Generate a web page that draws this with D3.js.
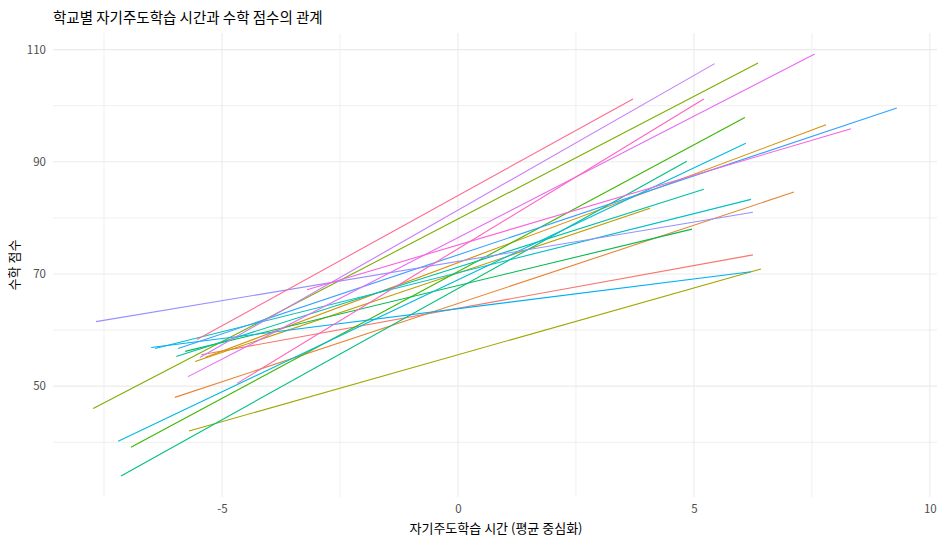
<!DOCTYPE html>
<html>
<head>
<meta charset="utf-8">
<script src="https://cdn.jsdelivr.net/npm/d3@7"></script>
<style>
  body { margin: 0; background: #fff; }
  text { font-family: "Noto Sans CJK KR", "Noto Sans", sans-serif; }
</style>
</head>
<body>
<div id="chart"></div>
<script>

// one fitted line per school: start / end of study time (centered) and score
var schools = ["S01","S02","S03","S04","S05","S06","S07","S08","S09","S10",
               "S11","S12","S13","S14","S15","S16","S17","S18","S19","S20"];
var x_start = [-5.44, -6.00, -5.36, -5.57, -5.70, -7.73, -6.93, -5.78, -7.14, -5.97,
               -6.42, -7.20, -6.50, -5.93, -7.67, -5.47, -5.72, -3.20, -4.68, -5.53];
var x_end   = [ 6.25,  7.12,  7.80,  4.07,  6.42,  6.36,  6.08,  4.96,  4.85,  5.21,
                6.21,  6.10,  6.21,  9.30,  6.25,  5.44,  7.56,  8.33,  5.21,  3.71];
var y_start = [55.6, 48.0, 55.1, 54.4, 42.0, 46.0, 39.1, 56.2, 34.0, 55.3,
               56.7, 40.2, 56.9, 56.7, 61.5, 55.1, 51.7, 67.2, 50.5, 58.3];
var y_end   = [73.4, 84.6, 96.6, 81.7, 70.9, 107.6, 97.9, 78.0, 90.1, 85.1,
               83.3, 93.3, 70.4, 99.6, 81.0, 107.5, 109.2, 95.9, 101.2, 101.2];

var x_ticks = [-5, 0, 5, 10];
var y_ticks = [50, 70, 90, 110];

var title_text = "학교별 자기주도학습 시간과 수학 점수의 관계";
var x_title = "자기주도학습 시간 (평균 중심화)";
var y_title = "수학 점수";

var svg_width = 945;
var svg_height = 542;
var panel = {left: 53, right: 937, top: 33, bottom: 497};

var lines = schools.map(function(s, i) {
  return {school: s, x0: x_start[i], x1: x_end[i], y0: y_start[i], y1: y_end[i]};
});

// ggplot style 5% expansion
function expand(ext) {
  var pad = (ext[1] - ext[0]) * 0.05;
  return [ext[0] - pad, ext[1] + pad];
}
var x_ext = expand([d3.min(x_start), d3.max(x_end)]);
var y_ext = expand([d3.min(y_start), d3.max(y_end)]);

var xScale = d3.scaleLinear().domain(x_ext).range([panel.left, panel.right]);
var yScale = d3.scaleLinear().domain(y_ext).range([panel.bottom, panel.top]);

// hue palette like scales::hue_pal()
var colorScale = d3.scaleOrdinal()
  .domain(schools)
  .range(["#F8766D","#EA8331","#D89000","#C09B00","#A3A500","#7CAE00","#39B600","#00BB4E",
          "#00BF7D","#00C1A3","#00BFC4","#00BAE0","#00B0F6","#35A2FF","#9590FF","#C77CFF",
          "#E76BF3","#FA62DB","#FF62BC","#FF6C91"]);

var svg = d3.select('#chart')
  .append('svg')
  .attr('width', svg_width)
  .attr('height', svg_height);

// minor grid (halfway between majors)
var x_minor = x_ticks.map(function(t) { return t - 2.5; });
var y_minor = y_ticks.map(function(t) { return t - 10; });

var grid = svg.append('g');
grid.selectAll('line.xmin')
  .data(x_minor)
  .enter().append('line')
    .attr('x1', function(d) { return xScale(d); })
    .attr('x2', function(d) { return xScale(d); })
    .attr('y1', panel.top).attr('y2', panel.bottom)
    .attr('stroke', '#EBEBEB').attr('stroke-width', 0.8);
grid.selectAll('line.ymin')
  .data(y_minor)
  .enter().append('line')
    .attr('y1', function(d) { return yScale(d); })
    .attr('y2', function(d) { return yScale(d); })
    .attr('x1', panel.left).attr('x2', panel.right)
    .attr('stroke', '#EBEBEB').attr('stroke-width', 0.8);
grid.selectAll('line.xmaj')
  .data(x_ticks)
  .enter().append('line')
    .attr('x1', function(d) { return xScale(d); })
    .attr('x2', function(d) { return xScale(d); })
    .attr('y1', panel.top).attr('y2', panel.bottom)
    .attr('stroke', '#EBEBEB').attr('stroke-width', 1.1);
grid.selectAll('line.ymaj')
  .data(y_ticks)
  .enter().append('line')
    .attr('y1', function(d) { return yScale(d); })
    .attr('y2', function(d) { return yScale(d); })
    .attr('x1', panel.left).attr('x2', panel.right)
    .attr('stroke', '#EBEBEB').attr('stroke-width', 1.1);

// school lines
svg.append('g').selectAll('line')
  .data(lines)
  .enter().append('line')
    .attr('x1', function(d) { return xScale(d.x0); })
    .attr('y1', function(d) { return yScale(d.y0); })
    .attr('x2', function(d) { return xScale(d.x1); })
    .attr('y2', function(d) { return yScale(d.y1); })
    .attr('stroke', function(d) { return colorScale(d.school); })
    .attr('stroke-width', 1.1);

// axes, no domain line / ticks (theme_minimal)
var plainFmt = function(d) { return String(d); };
var xAxis = d3.axisBottom(xScale).tickValues(x_ticks).tickFormat(plainFmt).tickSize(0).tickPadding(6);
var yAxis = d3.axisLeft(yScale).tickValues(y_ticks).tickFormat(plainFmt).tickSize(0).tickPadding(6);

var gx = svg.append('g')
  .attr('transform', 'translate(0,' + (panel.bottom + 2) + ')')
  .call(xAxis);
var gy = svg.append('g')
  .attr('transform', 'translate(' + (panel.left - 1) + ',0)')
  .call(yAxis);
[gx, gy].forEach(function(g) {
  g.select('.domain').remove();
  g.selectAll('text')
    .attr('fill', '#4D4D4D')
    .style('font-size', '11.5px')
    .style('font-family', '"Noto Sans CJK KR", sans-serif');
});

svg.append('text')
  .attr('x', 53)
  .attr('y', 23)
  .attr('font-size', '14.5px')
  .attr('fill', '#000')
  .text(title_text);

svg.append('text')
  .attr('x', 496)
  .attr('y', 533)
  .attr('text-anchor', 'middle')
  .attr('font-size', '13px')
  .attr('fill', '#000')
  .text(x_title);

svg.append('text')
  .attr('transform', 'translate(19,' + ((panel.top + panel.bottom) / 2) + ') rotate(-90)')
  .attr('text-anchor', 'middle')
  .attr('font-size', '13px')
  .attr('fill', '#000')
  .text(y_title);

</script>
</body>
</html>
